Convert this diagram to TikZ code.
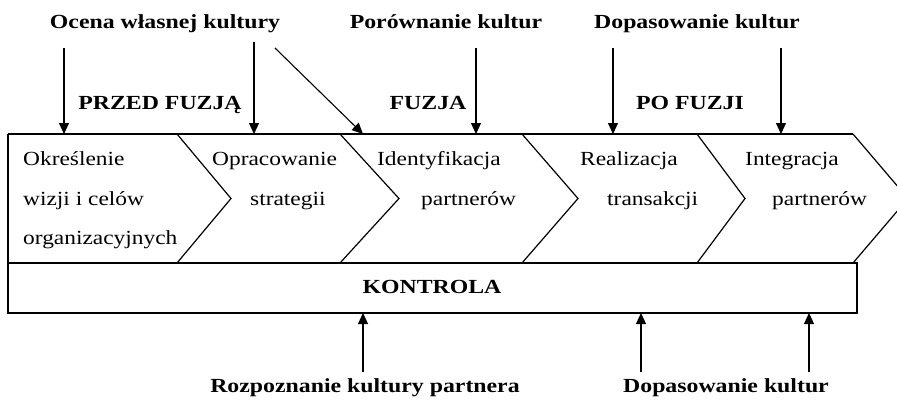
\documentclass[tikz,border=0pt]{standalone}
\usepackage{fontspec}
\usepackage{graphicx}
\setmainfont{Liberation Serif}
\usetikzlibrary{arrows.meta}
% horizontally widened text, as set in the chart
\newcommand{\wtxt}[1]{\scalebox{1.17}[1]{#1}}
\newcommand{\wbold}[1]{\scalebox{1.19}[1]{\bfseries #1}}

\begin{document}
\begin{tikzpicture}[x=1pt, y=-1pt,
    outline/.style={line width=1.2pt, line join=miter},
    flow/.style={line width=1.1pt, -{Triangle[length=11pt,width=10pt]}},
    stage/.style={inner sep=0pt, anchor=base west, font=\fontsize{20}{24}\selectfont},
    caption/.style={inner sep=0pt, anchor=base, font=\fontsize{20}{24}\selectfont}]
  \useasboundingbox (0,0) rectangle (897,399);
  \clip (0,0) rectangle (897,399);

  % corners of the process band and the control box
  \coordinate (TL) at (8,134);
  \coordinate (BL) at (8,263);
  \coordinate (TR) at (853,134);
  \coordinate (KR) at (857,263);
  \coordinate (KB) at (857,313);
  \coordinate (KL) at (8,313);

  % chevron borders: top corner, tip, bottom corner
  \foreach \i/\bx/\tx in {1/177/231, 2/340/399, 3/522/578, 4/697/745, 5/853/908} {
    \coordinate (t\i) at (\bx,134);
    \coordinate (p\i) at (\tx,198.5);
    \coordinate (b\i) at (\bx,263);
    \draw[outline] (t\i) -- (p\i) -- (b\i);
  }
  \draw[outline] (TL) -- (TR);
  \draw[outline] (TL) -- (KL) -- (KB) -- (KR) -- (BL);

  % stage texts
  \node[stage] (s1a) at (23,165) {\wtxt{Określenie}};
  \node[stage] (s1b) at (23,205) {\wtxt{wizji i celów}};
  \node[stage] (s1c) at (23,244) {\wtxt{organizacyjnych}};
  \node[stage] (s2a) at (212,165) {\wtxt{Opracowanie}};
  \node[stage] (s2b) at (250,205) {\wtxt{strategii}};
  \node[stage] (s3a) at (377,165) {\wtxt{Identyfikacja}};
  \node[stage] (s3b) at (421,205) {\wtxt{partnerów}};
  \node[stage] (s4a) at (580,165) {\wtxt{Realizacja}};
  \node[stage] (s4b) at (607,205) {\wtxt{transakcji}};
  \node[stage] (s5a) at (745,165) {\wtxt{Integracja}};
  \node[stage] (s5b) at (772,205) {\wtxt{partnerów}};

  \node[caption] (kontrola) at (432,293) {\wbold{KONTROLA}};

  % headings
  \node[caption] (ocena) at (165,28) {\wbold{Ocena własnej kultury}};
  \node[caption] (porown) at (446,28) {\wbold{Porównanie kultur}};
  \node[caption] (dopasT) at (697,28) {\wbold{Dopasowanie kultur}};
  \node[caption] (przed) at (160,109) {\wbold{PRZED FUZJĄ}};
  \node[caption] (fuzja) at (428,109) {\wbold{FUZJA}};
  \node[caption] (po) at (690,109) {\wbold{PO FUZJI}};
  \node[caption] (rozp) at (365,392) {\wbold{Rozpoznanie kultury partnera}};
  \node[caption] (dopasB) at (726,392) {\wbold{Dopasowanie kultur}};

  % arrow ends on the top edge
  \coordinate (a1s) at (64,48);   \coordinate (a1e) at (64,134);
  \coordinate (a2s) at (254,42);  \coordinate (a2e) at (254,134);
  \coordinate (a3s) at (275,48);  \coordinate (a3e) at (363,134);
  \coordinate (a4s) at (476,48);  \coordinate (a4e) at (476,134);
  \coordinate (a5s) at (613,48);  \coordinate (a5e) at (613,134);
  \coordinate (a6s) at (781,48);  \coordinate (a6e) at (781,134);
  \foreach \k in {1,...,6} { \draw[flow] (a\k s) -- (a\k e); }

  % arrow ends on the bottom edge
  \coordinate (u1s) at (363,372); \coordinate (u1e) at (363,313);
  \coordinate (u2s) at (641,372); \coordinate (u2e) at (641,313);
  \coordinate (u3s) at (809,372); \coordinate (u3e) at (809,313);
  \foreach \k in {1,2,3} { \draw[flow] (u\k s) -- (u\k e); }
\end{tikzpicture}
\end{document}
